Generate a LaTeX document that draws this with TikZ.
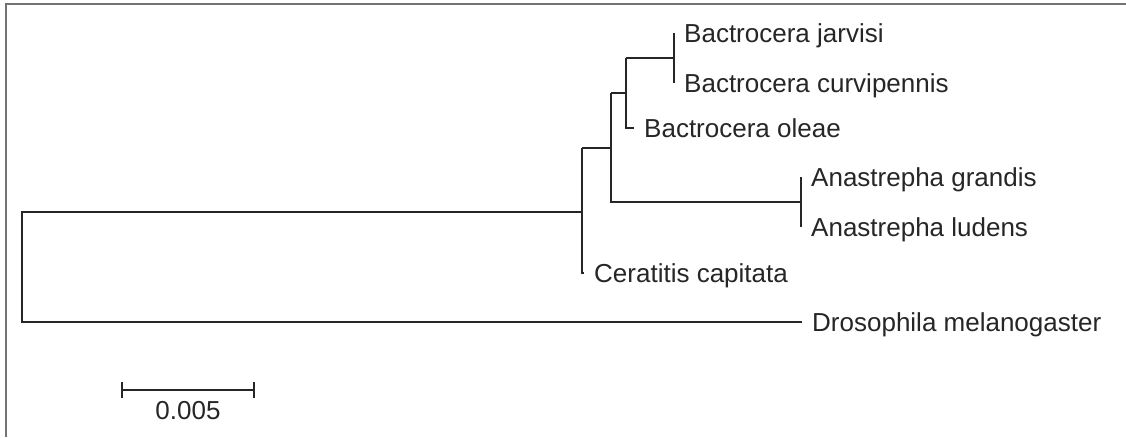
\documentclass[tikz,border=0pt]{standalone}
\usepackage{fontspec}
\setmainfont{Liberation Sans}
\begin{document}
\begin{tikzpicture}[x=1pt,y=-1pt,
  br/.style={draw=black!85,line width=1.8pt},
  lbl/.style={anchor=base west,inner sep=0pt,text=black!85,font=\fontsize{26}{31}\selectfont},
  frame/.style={draw=black!55,line width=2pt}]
\useasboundingbox (0,0) rectangle (1126,437);
\fill[white] (0,0) rectangle (1126,437);
\draw[frame] (1126,4) -- (6,4) -- (6,437);
% internal nodes
\coordinate (r) at (22,267);
\coordinate (n1) at (582,210);
\coordinate (n2) at (611,148);
\coordinate (n3) at (626,93);
\coordinate (n4) at (674,58);
\coordinate (n5) at (801,202);
% leaves
\coordinate (jar) at (674,33);
\coordinate (cur) at (674,83);
\coordinate (ole) at (634,128);
\coordinate (gra) at (801,177);
\coordinate (lud) at (801,227);
\coordinate (cer) at (584,273);
\coordinate (dro) at (802,322);
% branches
\draw[br] (n1 |- 0,212) -| (r |- 0,212) -- (r |- dro) -- (dro);
\draw[br] (n1 |- n2) -- (n1 |- cer) -- (cer);
\draw[br] (n2 |- n3) -- (n2 |- n5) -- (n5);
\draw[br] (n3 |- n4) -- (n3 |- ole) -- (ole);
\draw[br] (n1 |- n2) -- (n2);
\draw[br] (n2 |- n3) -- (n3);
\draw[br] (n3 |- n4) -- (n4);
\draw[br] (jar) -- (cur);
\draw[br] (gra) -- (lud);
% labels
\node[lbl] (tjar) at ([xshift=10pt,yshift=-9pt]jar) {Bactrocera jarvisi};
\node[lbl] (tcur) at ([xshift=10pt,yshift=-9pt]cur) {Bactrocera curvipennis};
\node[lbl] (tole) at ([xshift=10pt,yshift=-9pt]ole) {Bactrocera oleae};
\node[lbl] (tgra) at ([xshift=10pt,yshift=-9pt]gra) {Anastrepha grandis};
\node[lbl] (tlud) at ([xshift=10pt,yshift=-9pt]lud) {Anastrepha ludens};
\node[lbl] (tcer) at ([xshift=10pt,yshift=-9pt]cer) {Ceratitis capitata};
\node[lbl] (tdro) at ([xshift=10pt,yshift=-9pt]dro) {Drosophila melanogaster};
% scale bar
\coordinate (sa) at (122,390);
\coordinate (sb) at (254,390);
\draw[br] (sa) -- (sb);
\draw[br] ([yshift=-8pt]sa) -- ([yshift=8pt]sa);
\draw[br] ([yshift=-8pt]sb) -- ([yshift=8pt]sb);
\node[lbl,anchor=base] (sl) at (188,419) {0.005};
\end{tikzpicture}
\end{document}
